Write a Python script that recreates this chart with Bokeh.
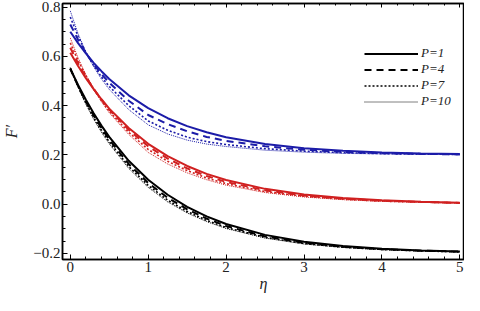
from bokeh.plotting import figure
from bokeh.models import Range1d, LinearAxis, Legend, LegendItem, CustomJSTickFormatter, FixedTicker
from bokeh.embed import file_html
from bokeh.resources import INLINE

eta = [0, 0.1, 0.2, 0.3, 0.4, 0.5, 0.75, 1, 1.25, 1.5, 1.75, 2, 2.5, 3, 3.5, 4, 4.5, 5]

blue_p1 = [0.700, 0.654, 0.612, 0.574, 0.540, 0.508, 0.442, 0.390, 0.349, 0.317, 0.292, 0.272, 0.244, 0.227, 0.217, 0.210, 0.206, 0.204]
blue_p4 = [0.730, 0.668, 0.614, 0.568, 0.528, 0.493, 0.420, 0.362, 0.325, 0.296, 0.273, 0.257, 0.235, 0.221, 0.212, 0.207, 0.204, 0.202]
blue_p7 = [0.760, 0.682, 0.617, 0.563, 0.517, 0.478, 0.400, 0.338, 0.300, 0.272, 0.254, 0.242, 0.225, 0.215, 0.209, 0.205, 0.203, 0.202]
blue_p10 = [0.785, 0.692, 0.618, 0.558, 0.508, 0.466, 0.384, 0.322, 0.285, 0.260, 0.244, 0.234, 0.219, 0.211, 0.206, 0.204, 0.202, 0.201]

red_p1 = [0.615, 0.561, 0.512, 0.467, 0.426, 0.388, 0.309, 0.245, 0.195, 0.155, 0.123, 0.098, 0.062, 0.039, 0.025, 0.016, 0.010, 0.006]
red_p4 = [0.635, 0.572, 0.517, 0.468, 0.424, 0.384, 0.302, 0.235, 0.185, 0.145, 0.114, 0.090, 0.056, 0.035, 0.022, 0.014, 0.009, 0.005]
red_p7 = [0.655, 0.583, 0.522, 0.468, 0.420, 0.377, 0.292, 0.222, 0.174, 0.136, 0.106, 0.083, 0.051, 0.032, 0.020, 0.012, 0.008, 0.005]
red_p10 = [0.675, 0.594, 0.526, 0.467, 0.416, 0.371, 0.283, 0.210, 0.163, 0.127, 0.099, 0.077, 0.047, 0.029, 0.018, 0.011, 0.007, 0.004]

black_p1 = [0.550, 0.484, 0.424, 0.369, 0.319, 0.273, 0.176, 0.099, 0.038, -0.011, -0.050, -0.081, -0.125, -0.153, -0.170, -0.181, -0.188, -0.192]
black_p4 = [0.550, 0.480, 0.417, 0.360, 0.309, 0.262, 0.163, 0.086, 0.026, -0.021, -0.059, -0.089, -0.131, -0.157, -0.173, -0.183, -0.189, -0.193]
black_p7 = [0.552, 0.477, 0.411, 0.352, 0.300, 0.253, 0.153, 0.076, 0.016, -0.030, -0.066, -0.095, -0.135, -0.160, -0.175, -0.184, -0.190, -0.194]
black_p10 = [0.555, 0.475, 0.406, 0.345, 0.292, 0.245, 0.145, 0.068, 0.009, -0.036, -0.071, -0.099, -0.138, -0.162, -0.176, -0.185, -0.190, -0.194]

legend_labels = ["P=1", "P=4", "P=7", "P=10"]
x_ticks = [0, 1, 2, 3, 4, 5]
y_ticks = [-0.2, 0.0, 0.2, 0.4, 0.6, 0.8]

SERIF = "Liberation Serif"

p = figure(width=464, height=295, output_backend="svg", toolbar_location=None,
           x_range=Range1d(-0.1, 5.06), y_range=Range1d(-0.225, 0.815),
           min_border_left=56, min_border_right=0, min_border_top=3, min_border_bottom=36)
p.xgrid.visible = False
p.ygrid.visible = False
p.outline_line_color = "black"
p.outline_line_width = 1.5

styles = [
    dict(line_dash="solid", line_width=2.0),
    dict(line_dash="7 5", line_width=2.0),
    dict(line_dash="2 2", line_width=1.6),
    dict(line_dash="1 1", line_width=1.0),
]

groups = [
    ("#1c1ca8", [blue_p1, blue_p4, blue_p7, blue_p10]),
    ("#d02020", [red_p1, red_p4, red_p7, red_p10]),
    ("black", [black_p1, black_p4, black_p7, black_p10]),
]
renderers = {}
for color, series in groups:
    renderers[color] = []
    for s, st in zip(series, styles):
        renderers[color].append(p.line(eta, s, line_color=color, **st))

items = [LegendItem(label=lab, renderers=[r]) for lab, r in zip(legend_labels, renderers["black"])]
legend = Legend(items=items, location=(302, 150), padding=0, margin=0, spacing=0,
                glyph_width=54, glyph_height=15, label_height=15, label_standoff=3,
                label_text_font=SERIF, label_text_font_style="italic",
                label_text_font_size="13px", label_text_color="#222222",
                background_fill_alpha=0, border_line_alpha=0)
p.add_layout(legend, "center")

fmt = CustomJSTickFormatter(code="return tick.toFixed(1).replace('-', '\u2212');")

for ax in [p.xaxis[0], p.yaxis[0]]:
    ax.axis_line_width = 1.5
    ax.major_tick_in = 5
    ax.major_tick_out = 0
    ax.minor_tick_in = 3
    ax.minor_tick_out = 0
    ax.major_label_text_font = SERIF
    ax.major_label_text_font_size = "15px"
    ax.major_label_text_color = "#222222"
    ax.axis_label_text_font = SERIF
    ax.axis_label_text_font_style = "italic"
    ax.axis_label_text_font_size = "16px"
    ax.axis_label_text_color = "#222222"

p.xaxis[0].ticker = FixedTicker(ticks=x_ticks, minor_ticks=[i * 0.2 for i in range(0, 26)])
p.yaxis[0].ticker = FixedTicker(ticks=y_ticks, minor_ticks=[-0.2 + i * 0.05 for i in range(0, 21)])
p.yaxis[0].formatter = fmt
p.xaxis[0].axis_label = "\u03b7"
p.yaxis[0].axis_label = "F\u2032"
p.xaxis[0].major_label_standoff = 2
p.yaxis[0].major_label_standoff = 2
p.xaxis[0].axis_label_standoff = 0
p.yaxis[0].axis_label_standoff = 10

blank = CustomJSTickFormatter(code="return '';")
top = LinearAxis(ticker=FixedTicker(ticks=x_ticks, minor_ticks=[i * 0.2 for i in range(0, 26)]),
                 formatter=blank, major_tick_in=4, major_tick_out=0, minor_tick_in=2, minor_tick_out=0,
                 axis_line_width=1.5, major_label_standoff=0, major_label_text_font_size="0px")
p.add_layout(top, "above")

open("out.html", "w").write(file_html(p, INLINE))
